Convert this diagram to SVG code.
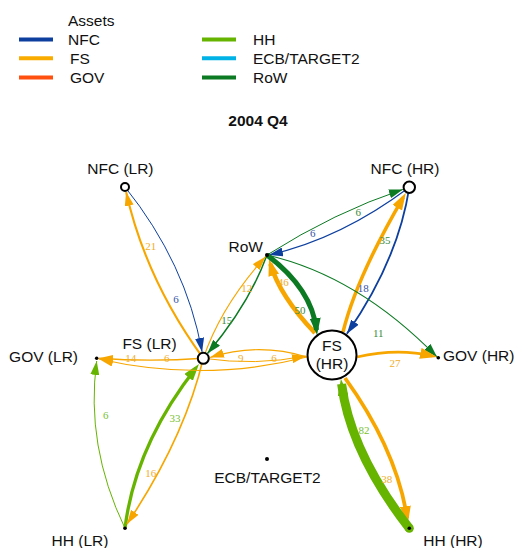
<svg xmlns="http://www.w3.org/2000/svg" width="517" height="548" viewBox="0 0 517 548">
<style>
.lbl{font-family:"Liberation Sans",Arial,sans-serif;font-size:15.5px;fill:#111}
.ttl{font-family:"Liberation Sans",Arial,sans-serif;font-size:15.5px;font-weight:bold;fill:#111}
.el{font-family:"Liberation Serif","Times New Roman",serif;font-size:11px;text-anchor:middle}
.e{fill:none}
.o{stroke:#f7a600}.b{stroke:#0d3f9f}.g{stroke:#0b7a22}.l{stroke:#66b400}
.to{fill:#f0ae2c}.tb{fill:#3355aa}.tg{fill:#3a8a3a}.tl{fill:#78bf30}
.node{fill:#fff;stroke:#000;stroke-width:2}
.dot{fill:#000}
</style>
<defs>
<marker id="ao" viewBox="0 0 14 9" refX="14" refY="4.5" markerWidth="14" markerHeight="9" markerUnits="userSpaceOnUse" orient="auto"><path d="M0,0 L14,4.5 L0,9 z" fill="#f7a600"/></marker>
<marker id="ab" viewBox="0 0 14 9" refX="14" refY="4.5" markerWidth="14" markerHeight="9" markerUnits="userSpaceOnUse" orient="auto"><path d="M0,0 L14,4.5 L0,9 z" fill="#0d3f9f"/></marker>
<marker id="ag" viewBox="0 0 14 9" refX="14" refY="4.5" markerWidth="14" markerHeight="9" markerUnits="userSpaceOnUse" orient="auto"><path d="M0,0 L14,4.5 L0,9 z" fill="#0b7a22"/></marker>
<marker id="al" viewBox="0 0 14 9" refX="14" refY="4.5" markerWidth="14" markerHeight="9" markerUnits="userSpaceOnUse" orient="auto"><path d="M0,0 L14,4.5 L0,9 z" fill="#66b400"/></marker>
<marker id="aoB" viewBox="0 0 17 11" refX="12" refY="5.5" markerWidth="17" markerHeight="11" markerUnits="userSpaceOnUse" orient="auto"><path d="M0,0 L17,5.5 L0,11 z" fill="#f7a600"/></marker>
<marker id="agB" viewBox="0 0 17 11" refX="12" refY="5.5" markerWidth="17" markerHeight="11" markerUnits="userSpaceOnUse" orient="auto"><path d="M0,0 L17,5.5 L0,11 z" fill="#0b7a22"/></marker>
<marker id="alB" viewBox="0 0 17 11" refX="12" refY="5.5" markerWidth="17" markerHeight="11" markerUnits="userSpaceOnUse" orient="auto"><path d="M0,0 L17,5.5 L0,11 z" fill="#66b400"/></marker>
</defs>
<rect width="517" height="548" fill="#fff"/>
<g id="legend">
<text class="lbl" x="68" y="26">Assets</text>
<line x1="19" y1="39.5" x2="53" y2="39.5" stroke="#0d3f9f" stroke-width="4"/>
<text class="lbl" x="68" y="45">NFC</text>
<line x1="19" y1="58.3" x2="53" y2="58.3" stroke="#f9ab00" stroke-width="4"/>
<text class="lbl" x="70" y="63.5">FS</text>
<line x1="19" y1="77.5" x2="53" y2="77.5" stroke="#ff5010" stroke-width="4"/>
<text class="lbl" x="70" y="82.5">GOV</text>
<line x1="202" y1="39.5" x2="236" y2="39.5" stroke="#66b400" stroke-width="4"/>
<text class="lbl" x="253" y="45">HH</text>
<line x1="202" y1="58.3" x2="236" y2="58.3" stroke="#00b2e6" stroke-width="4"/>
<text class="lbl" x="253" y="63.5">ECB/TARGET2</text>
<line x1="202" y1="77.5" x2="236" y2="77.5" stroke="#0b7a22" stroke-width="4"/>
<text class="lbl" x="253" y="82.5">RoW</text>
</g>
<text class="ttl" x="258" y="126" text-anchor="middle">2004 Q4</text>
<g id="connectors">
<path class="e o" stroke-width="2.1" marker-end="url(#ao)" d="M203.3,358.3 Q146,280 126.1,191.9"/>
<path class="e b" stroke-width="1" marker-end="url(#ab)" d="M125,187 Q186,263 202.1,351.9"/>
<path class="e g" stroke-width="1.5" marker-end="url(#ag)" d="M267,255 Q249,304.5 207.5,353.4"/>
<path class="e o" stroke-width="1.2" marker-end="url(#ao)" d="M203.3,358.3 Q221.2,305.8 265.5,256.7"/>
<path class="e g" stroke-width="1" marker-end="url(#ag)" d="M267,255 Q335,212 402.9,189.4"/>
<path class="e b" stroke-width="1.2" marker-end="url(#ab)" d="M409.3,187.3 Q340.8,238.8 269,255"/>
<path class="e o" stroke-width="3.5" marker-end="url(#aoB)" d="M343,332 Q356.5,277.5 403.3,197.3"/>
<path class="e b" stroke-width="1.8" marker-end="url(#ab)" d="M409.3,187.3 Q398,260.4 346.9,333.7"/>
<path class="e g" stroke-width="1.1" marker-end="url(#ag)" d="M267,255 Q358,276 437,357"/>
<path class="e o" stroke-width="4.6" marker-end="url(#aoB)" d="M315,333 Q279.8,296 270.4,263.8"/>
<path class="e g" stroke-width="5" marker-end="url(#agB)" d="M267,255 Q312,289 316.5,330"/>
<path class="e o" stroke-width="2.7" marker-end="url(#aoB)" d="M357,357 Q397,348 432.1,355.9"/>
<path class="e o" stroke-width="3.8" marker-end="url(#aoB)" d="M345,378 Q396.5,449.5 407.2,518.1"/>
<path class="e l" stroke-width="9" marker-end="url(#alB)" d="M409.3,528.3 Q350.4,452.4 341.6,384"/>
<circle cx="409.3" cy="528.3" r="4.5" fill="#66b400"/>
<path class="e l" stroke-width="3.3" marker-end="url(#alB)" d="M125,528.3 Q135,445.8 195.9,367.9"/>
<path class="e o" stroke-width="1.6" marker-end="url(#ao)" d="M203.3,358.3 Q184.2,438.8 127,524"/>
<path class="e l" stroke-width="1" marker-end="url(#al)" d="M125,528.3 Q85.2,445.4 96.7,361"/>
<path class="e o" stroke-width="1.4" marker-end="url(#ao)" d="M203.3,358.3 Q150,362 99,358.3"/>
<path class="e o" stroke-width="1.2" marker-end="url(#ao)" d="M307,357 Q204,383 99,359"/>
<path class="e o" stroke-width="1.1" marker-end="url(#ao)" d="M307,357 Q258,342 210,357.5"/>
<path class="e o" stroke-width="1" marker-end="url(#ao)" d="M203.3,358.3 Q256,366 306,356"/>
<text class="el to" x="150.7" y="249.5">21</text>
<text class="el tb" x="176" y="303">6</text>
<text class="el to" x="246.7" y="292">12</text>
<text class="el tg" x="226.7" y="324">15</text>
<text class="el to" x="130.7" y="362">14</text>
<text class="el to" x="166.7" y="362">6</text>
<text class="el to" x="240.7" y="362">9</text>
<text class="el to" x="274" y="362">6</text>
<text class="el tg" x="358.3" y="215.7">6</text>
<text class="el tb" x="312.7" y="236.7">6</text>
<text class="el tg" x="385" y="244">35</text>
<text class="el tb" x="363.3" y="292.3">18</text>
<text class="el to" x="283.3" y="285.7">46</text>
<text class="el tg" x="300" y="314">50</text>
<text class="el tg" x="378.3" y="336.7">11</text>
<text class="el to" x="395" y="366.7">27</text>
<text class="el tl" x="364" y="434">82</text>
<text class="el to" x="386.7" y="483.3">38</text>
<text class="el tl" x="105.7" y="419">6</text>
<text class="el tl" x="175" y="422.3">33</text>
<text class="el to" x="150.7" y="477.3">16</text>
</g>
<g id="node-nfc-lr"><circle class="node" cx="125" cy="187" r="4"/><text class="lbl" x="120.4" y="174" text-anchor="middle">NFC (LR)</text></g>
<g id="node-nfc-hr"><circle class="node" cx="409.3" cy="187.3" r="5.7"/><text class="lbl" x="405" y="174" text-anchor="middle">NFC (HR)</text></g>
<g id="node-row"><circle class="dot" cx="267" cy="255" r="2"/><text class="lbl" x="263" y="252" text-anchor="end">RoW</text></g>
<g id="node-fs-lr"><circle class="node" cx="203.3" cy="358.3" r="5.5"/><text class="lbl" x="149.5" y="349" text-anchor="middle">FS (LR)</text></g>
<g id="node-fs-hr"><circle class="node" cx="332" cy="355" r="24.5"/><text class="lbl" x="332" y="351" text-anchor="middle">FS</text><text class="lbl" x="332" y="369" text-anchor="middle">(HR)</text></g>
<g id="node-gov-lr"><circle class="dot" cx="96.7" cy="358.3" r="1.8"/><text class="lbl" x="78" y="362" text-anchor="end">GOV (LR)</text></g>
<g id="node-gov-hr"><circle class="dot" cx="438.3" cy="357.7" r="1.8"/><text class="lbl" x="443" y="361">GOV (HR)</text></g>
<g id="node-hh-lr"><circle class="dot" cx="125" cy="528.3" r="1.8"/><text class="lbl" x="80" y="546" text-anchor="middle">HH (LR)</text></g>
<g id="node-hh-hr"><circle class="dot" cx="409.3" cy="528.3" r="1.8"/><text class="lbl" x="453" y="546" text-anchor="middle">HH (HR)</text></g>
<g id="node-ecb"><circle class="dot" cx="267" cy="459" r="2"/><text class="lbl" x="267.5" y="483" text-anchor="middle">ECB/TARGET2</text></g>
</svg>
